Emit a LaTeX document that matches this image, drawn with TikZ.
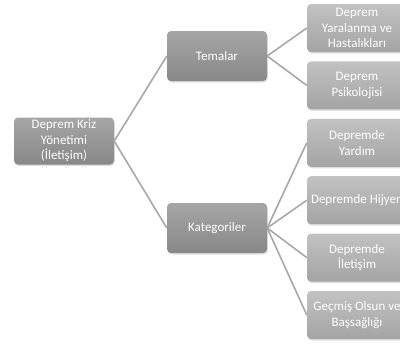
\documentclass[tikz,border=0pt]{standalone}
\usepackage{fontspec}
\setmainfont{Carlito}
\usepackage{tikz}
\usetikzlibrary{positioning,shadows}
\definecolor{roottop}{HTML}{A6A6A6}
\definecolor{rootbot}{HTML}{888888}
\definecolor{leaftop}{HTML}{C2C2C2}
\definecolor{leafbot}{HTML}{A4A4A4}
\definecolor{link}{HTML}{A8A8A8}

\begin{document}
\begin{tikzpicture}[
  x=1pt, y=1pt,
  font=\fontsize{13}{15.5}\selectfont,
  box/.style={rounded corners=4pt, text=white, align=center, inner sep=2pt,
    top color=roottop, bottom color=rootbot, minimum width=100pt,
    drop shadow={opacity=0.25, shadow xshift=0.8pt, shadow yshift=-1.5pt}},
  leaf/.style={box, top color=leaftop, bottom color=leafbot, minimum height=48pt},
  link/.style={draw=link, line width=1.6pt}
]
\useasboundingbox (0,0) rectangle (400,-351);
\clip (0,0) rectangle (400,-351);
\node[box, minimum height=47pt] (root) at (64,-141) {Deprem Kriz\\Yönetimi\\(İletişim)};
\node[box, minimum height=50pt] (tema) at (217,-56) {Temalar};
\node[box, minimum height=50pt] (kat) at (217,-228) {Kategoriler};
\node[leaf] (t1) at (357,-28) {Deprem\\Yaralanma ve\\Hastalıkları};
\node[leaf, below=9pt of t1] (t2) {Deprem\\Psikolojisi};
\node[leaf, below=9pt of t2] (k1) {Depremde\\Yardım};
\node[leaf, below=9pt of k1] (k2) {Depremde Hijyen};
\node[leaf, below=9pt of k2] (k3) {Depremde\\İletişim};
\node[leaf, below=9pt of k3] (k4) {Geçmiş Olsun ve\\Başsağlığı};
% baglantilar
\draw[link] (root.east) -- (tema.west);
\draw[link] (root.east) -- (kat.west);
\draw[link] (tema.east) -- (t1.west);
\draw[link] (tema.east) -- (t2.west);
\foreach \k in {k1,k2,k3,k4}
  \draw[link] (kat.east) -- (\k.west);
\end{tikzpicture}
\end{document}
